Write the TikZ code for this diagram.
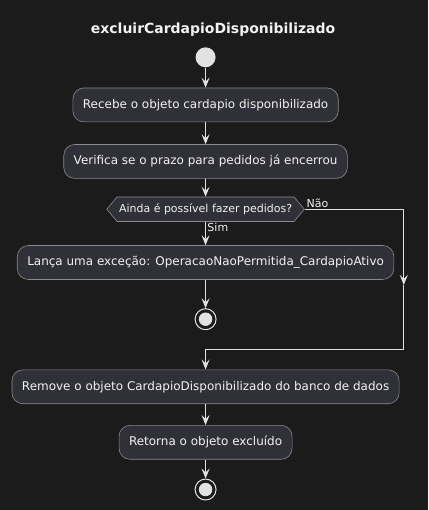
\documentclass[tikz,border=0pt]{standalone}
\usepackage{fontspec}
\setmainfont{DejaVu Sans}
\usepackage{xcolor}
\usetikzlibrary{arrows.meta,positioning,shapes.symbols,calc}
\definecolor{fundo}{HTML}{1B1B1B}
\definecolor{caixa}{HTML}{303038}
\definecolor{borda}{HTML}{8A8A8A}
\definecolor{traco}{HTML}{E2E2E2}
\definecolor{texto}{HTML}{F2F2F2}

\begin{document}
\begin{tikzpicture}[x=1pt,y=-1pt,>={Stealth[length=10pt,width=8pt,inset=4pt]},
  act/.style={draw=borda,line width=0.6pt,fill=caixa,rounded corners=11pt,text=texto,font=\fontsize{12}{14}\selectfont,inner xsep=10pt,minimum height=34pt},
  dec/.style={signal,signal to=west and east,signal pointer angle=100,draw=borda,line width=0.6pt,fill=caixa,text=texto,font=\fontsize{11}{13}\selectfont,inner xsep=2pt,minimum height=24.5pt},
  lbl/.style={text=texto,font=\fontsize{11}{13}\selectfont,inner sep=1.5pt},
  titulo/.style={text=texto,font=\fontsize{14}{17}\selectfont\bfseries},
  inicio/.style={circle,fill=traco,minimum size=20pt,inner sep=0pt},
  fim/.style={circle,draw=traco,line width=1pt,fill=fundo,minimum size=21pt,inner sep=0pt,path picture={\fill[traco] (path picture bounding box.center) circle (6.3pt);}},
  every path/.style={draw=traco,line width=0.8pt}]
\fill[fundo] (0,0) rectangle (428,510);
\node[titulo] (ttl) at (213,29) {excluirCardapioDisponibilizado};
\node[inicio] (ini) at (205.5,57) {};
\node[act,below=20pt of ini] (recebe) {Recebe o objeto cardapio disponibilizado};
\node[act,below=22pt of recebe] (verifica) {Verifica se o prazo para pedidos já encerrou};
\node[dec,below=18pt of verifica] (cond) {Ainda é possível fazer pedidos?};
\node[act,below=23.5pt of cond] (lanca) {Lança uma exceção: OperacaoNaoPermitida\_CardapioAtivo};
\node[fim,below=28.5pt of lanca] (fim1) {};
\node[act] (remove) at (205.5,387) {Remove o objeto CardapioDisponibilizado do banco de dados};
\node[act,below=21pt of remove] (retorna) {Retorna o objeto excluído};
\node[fim,below=19pt of retorna] (fim2) {};
\node[lbl,anchor=south west] (nao) at (cond.east) {Não};
\node[lbl,anchor=north west] (sim) at (cond.south) {Sim};
\coordinate (desvio) at (404,285);
\coordinate (juncao) at (404,350);
\draw[->] (ini)--(recebe); \draw[->] (recebe)--(verifica); \draw[->] (verifica)--(cond); \draw[->] (cond)--(lanca); \draw[->] (lanca)--(fim1);
\draw[->] (cond.east) -| (desvio); \draw[->] (desvio)--(juncao) -| (remove.north);
\draw[->] (remove)--(retorna); \draw[->] (retorna)--(fim2);
\end{tikzpicture}
\end{document}
